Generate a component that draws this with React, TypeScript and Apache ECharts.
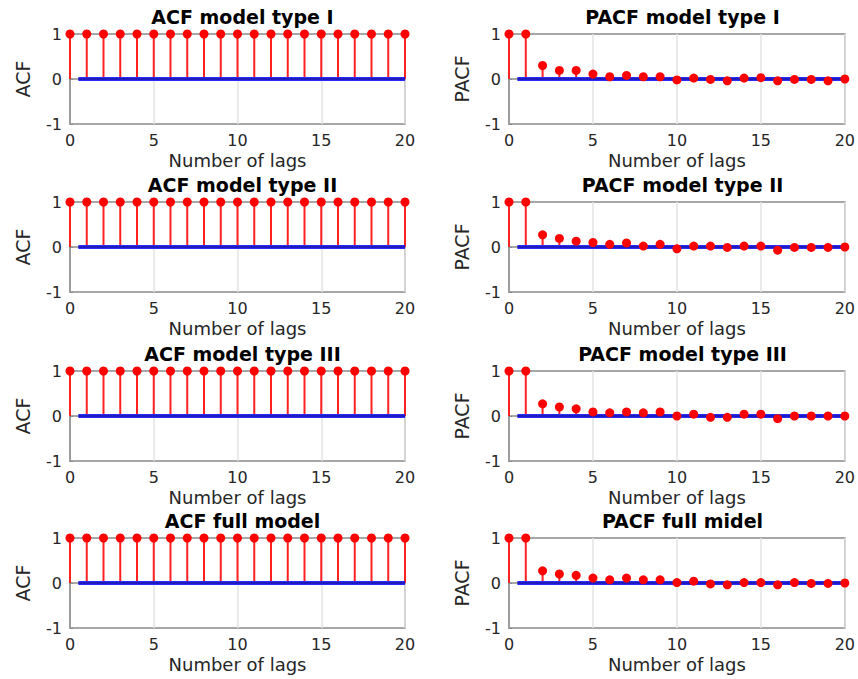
import React, { useEffect, useRef } from "react";
import * as echarts from "echarts";

const lags = [0, 1, 2, 3, 4, 5, 6, 7, 8, 9, 10, 11, 12, 13, 14, 15, 16, 17, 18, 19, 20];

const acfTypeI = [1, 1, 1, 1, 1, 1, 1, 1, 1, 1, 1, 1, 1, 1, 1, 1, 1, 1, 1, 1, 1];
const acfTypeII = [1, 1, 1, 1, 1, 1, 1, 1, 1, 1, 1, 1, 1, 1, 1, 1, 1, 1, 1, 1, 1];
const acfTypeIII = [1, 1, 1, 1, 1, 1, 1, 1, 1, 1, 1, 1, 1, 1, 1, 1, 1, 1, 1, 1, 1];
const acfFull = [1, 1, 1, 1, 1, 1, 1, 1, 1, 1, 1, 1, 1, 1, 1, 1, 1, 1, 1, 1, 1];

const pacfTypeI = [1, 1, 0.3, 0.19, 0.19, 0.11, 0.05, 0.08, 0.05, 0.05, -0.02, 0.02, -0.01, -0.04, 0.02, 0.03, -0.04, -0.01, -0.01, -0.04, 0.0];
const pacfTypeII = [1, 1, 0.27, 0.19, 0.13, 0.1, 0.06, 0.09, 0.02, 0.06, -0.04, 0.02, 0.02, -0.01, 0.02, 0.02, -0.07, -0.01, -0.01, -0.01, 0.0];
const pacfTypeIII = [1, 1, 0.27, 0.2, 0.16, 0.09, 0.07, 0.09, 0.07, 0.09, 0.0, 0.04, -0.03, -0.03, 0.04, 0.04, -0.06, 0.0, 0.0, 0.0, 0.0];
const pacfFull = [1, 1, 0.27, 0.2, 0.17, 0.11, 0.07, 0.11, 0.07, 0.07, 0.01, 0.04, -0.02, -0.04, 0.01, 0.01, -0.04, 0.01, -0.01, -0.01, 0.0];

// confidence bounds (nearly zero), drawn from lag 0.5 to lag 20
const boundLags = [0.5, 20];
const boundValues = [0, 0];

const xTicks = [0, 5, 10, 15, 20];
const yTicks = [-1, 0, 1];

const titles = [
  "ACF model type I", "PACF model type I",
  "ACF model type II", "PACF model type II",
  "ACF model type III", "PACF model type III",
  "ACF full model", "PACF full midel",
];
const yLabels = ["ACF", "PACF", "ACF", "PACF", "ACF", "PACF", "ACF", "PACF"];
const panelValues = [
  acfTypeI, pacfTypeI,
  acfTypeII, pacfTypeII,
  acfTypeIII, pacfTypeIII,
  acfFull, pacfFull,
];

const FONT = "DejaVu Sans";

export default function App() {
  const ref = useRef<HTMLDivElement>(null);

  useEffect(() => {
    if (!ref.current) return;
    const chart = echarts.init(ref.current, null, { renderer: "svg" });

    const colLeft = [70, 509];
    const colWidth = [335, 337];
    const rowTop = [34, 202, 371, 538];
    const plotHeight = 90;

    const grids: any[] = [];
    const xAxes: any[] = [];
    const yAxes: any[] = [];
    const series: any[] = [];
    const titleOpts: any[] = [];

    panelValues.forEach((vals, i) => {
      const col = i % 2;
      const row = Math.floor(i / 2);
      const left = colLeft[col];
      const top = rowTop[row];
      const width = colWidth[col];
      grids.push({
        left,
        top,
        width,
        height: plotHeight,
        show: true,
        borderColor: "#8a8a8a",
        borderWidth: 1.5,
        backgroundColor: "#ffffff",
      });
      titleOpts.push({
        text: titles[i],
        left: left + width / 2,
        top: top - 32,
        textAlign: "center",
        textStyle: {
          fontFamily: FONT,
          fontSize: 19,
          fontWeight: "bold",
          color: "#000000",
        },
      });
      xAxes.push({
        type: "value",
        gridIndex: i,
        min: 0,
        max: 20,
        interval: 5,
        name: "Number of lags",
        nameLocation: "middle",
        nameGap: 27,
        nameTextStyle: { fontFamily: FONT, fontSize: 18, color: "#262626" },
        axisLine: { show: true, lineStyle: { color: "#8a8a8a", width: 1.5 } },
        axisTick: { show: true, inside: true, length: 3, lineStyle: { color: "#8a8a8a" } },
        axisLabel: {
          fontFamily: FONT,
          fontSize: 16,
          color: "#262626",
          margin: 8,
          customValues: xTicks,
        },
        splitLine: { show: true, lineStyle: { color: "#e3e3e3", width: 1.5 } },
      });
      yAxes.push({
        type: "value",
        gridIndex: i,
        min: -1,
        max: 1,
        interval: 1,
        name: yLabels[i],
        nameLocation: "middle",
        nameGap: 38,
        nameRotate: 90,
        nameTextStyle: { fontFamily: FONT, fontSize: 19, color: "#262626" },
        axisLine: { show: true, lineStyle: { color: "#8a8a8a", width: 1.5 } },
        axisTick: { show: true, inside: true, length: 3, lineStyle: { color: "#8a8a8a" } },
        axisLabel: {
          fontFamily: FONT,
          fontSize: 16,
          color: "#262626",
          margin: 8,
          customValues: yTicks,
        },
        splitLine: { show: false },
      });

      const data = lags.map((l, k) => [l, vals[k]]);

      // stems
      series.push({
        type: "custom",
        xAxisIndex: i,
        yAxisIndex: i,
        z: 2,
        clip: false,
        data,
        renderItem: (params: any, api: any) => {
          const x = api.value(0);
          const y = api.value(1);
          const p0 = api.coord([x, 0]);
          const p1 = api.coord([x, y]);
          return {
            type: "line",
            shape: { x1: p0[0], y1: p0[1], x2: p1[0], y2: p1[1] },
            style: { stroke: "#ff2020", lineWidth: 2 },
          };
        },
      });
      // confidence bounds line (blue)
      series.push({
        type: "line",
        xAxisIndex: i,
        yAxisIndex: i,
        z: 3,
        symbol: "none",
        data: boundLags.map((l, k) => [l, boundValues[k]]),
        lineStyle: { color: "#2a2aff", width: 4 },
      });
      series.push({
        type: "line",
        xAxisIndex: i,
        yAxisIndex: i,
        z: 4,
        symbol: "none",
        data: boundLags.map((l, k) => [l, boundValues[k]]),
        lineStyle: { color: "#101080", width: 1.2 },
      });
      // markers
      series.push({
        type: "scatter",
        xAxisIndex: i,
        yAxisIndex: i,
        z: 5,
        clip: false,
        symbol: "circle",
        symbolSize: 9,
        itemStyle: { color: "#ff0000", opacity: 1 },
        data,
      });
    });

    chart.setOption({
      animation: false,
      backgroundColor: "#ffffff",
      title: titleOpts,
      grid: grids,
      xAxis: xAxes,
      yAxis: yAxes,
      series,
    });

    return () => chart.dispose();
  }, []);

  return (
    <div
      ref={ref}
      style={{ position: "fixed", left: 0, top: 0, width: 858, height: 679, background: "#fff" }}
    />
  );
}
